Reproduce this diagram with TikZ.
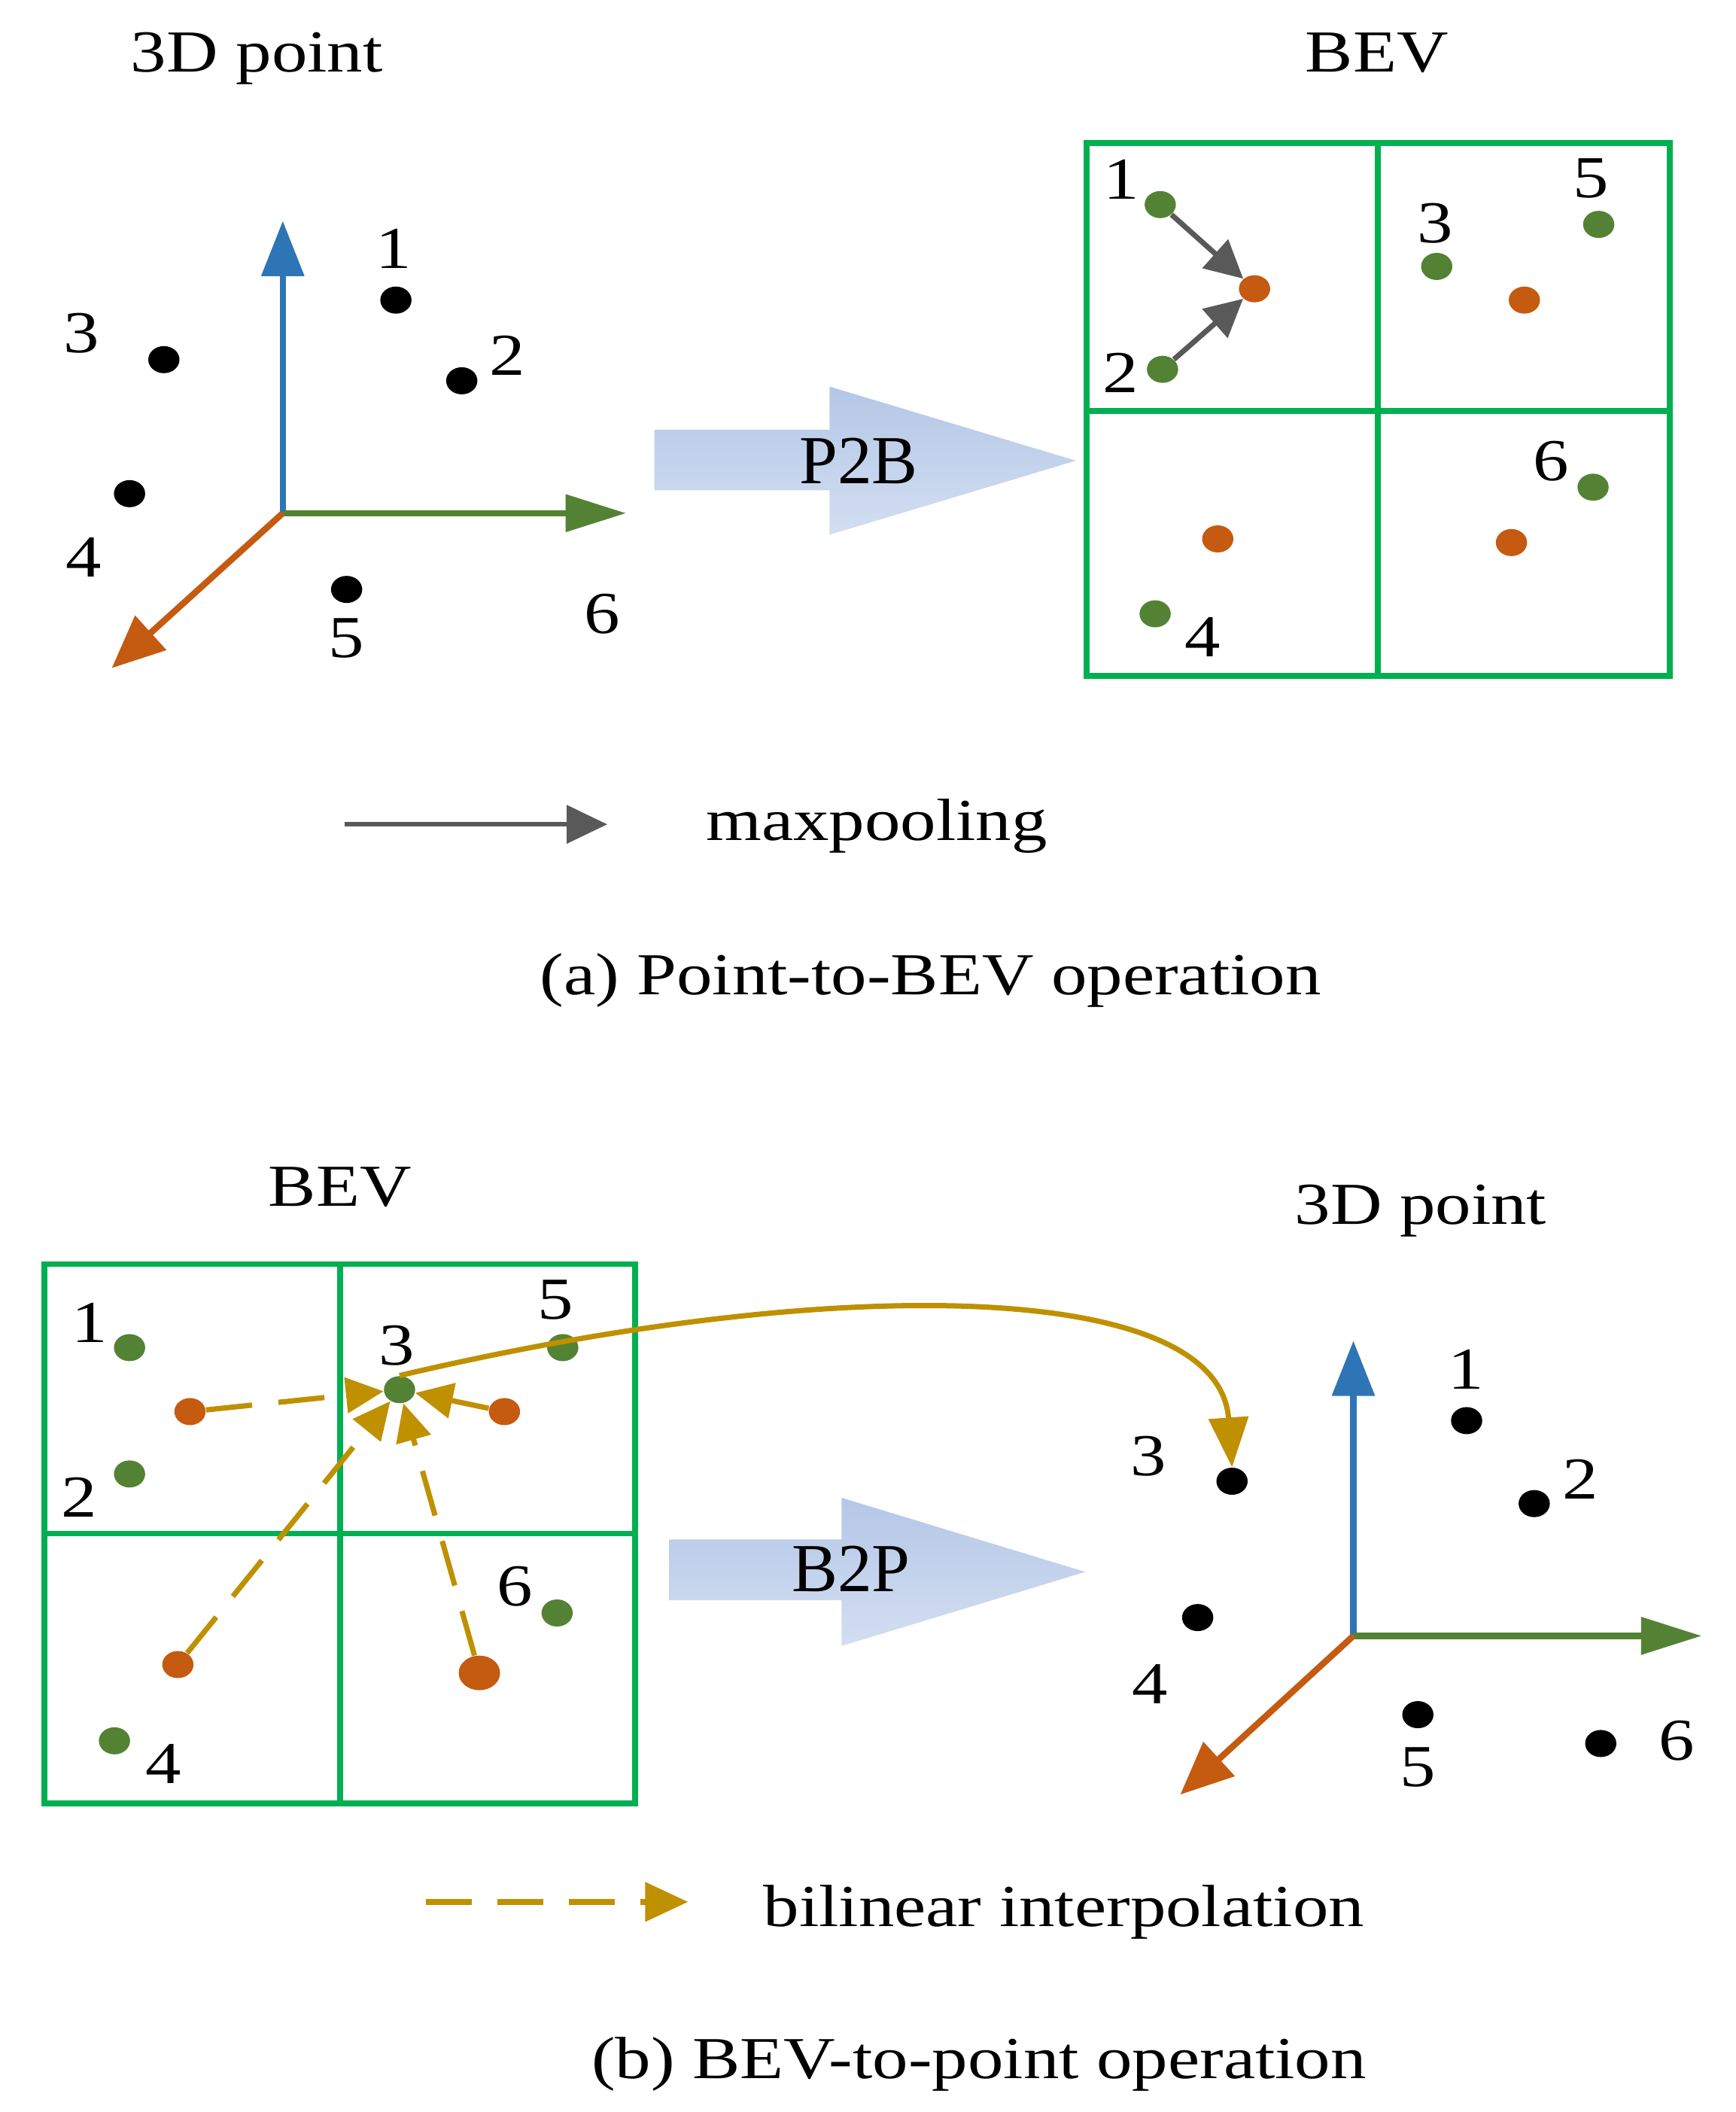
\documentclass[tikz,border=0pt]{standalone}
\usepackage{fontspec}
\setmainfont[FakeStretch=1.2]{Liberation Serif}
\newfontfamily\plainserif{Liberation Serif}
\usetikzlibrary{arrows.meta,shapes.geometric}
\definecolor{axblue}{HTML}{2E75B6}
\definecolor{axgreen}{HTML}{548235}
\definecolor{axorange}{HTML}{C55A11}
\definecolor{gridgreen}{HTML}{00B050}
\definecolor{dotgreen}{HTML}{548235}
\definecolor{dotorange}{HTML}{C55A11}
\definecolor{goldc}{HTML}{BF9000}
\definecolor{grayc}{HTML}{595959}
\definecolor{blocktop}{HTML}{B4C7E7}
\definecolor{blockbot}{HTML}{D3DEF1}
\begin{document}
\begin{tikzpicture}[x=0.0179cm,y=-0.0179cm,
  dot/.style={ellipse,inner sep=0pt,minimum width=0.415cm,minimum height=0.36cm},
  kdot/.style={dot,fill=black},
  gdot/.style={dot,fill=dotgreen},
  odot/.style={dot,fill=dotorange},
  bigodot/.style={ellipse,inner sep=0pt,minimum width=0.55cm,minimum height=0.46cm,fill=dotorange},
  lab/.style={inner sep=0pt,font=\fontsize{22.5}{27}\selectfont},
  ttl/.style={lab,anchor=base},
  blocklab/.style={inner sep=0pt,font=\plainserif\fontsize{26}{31}\selectfont},
  zaxis/.style={draw=axblue,line width=2.4pt,-{Triangle[length=0.734cm,width=0.555cm]}},
  xaxis/.style={draw=axgreen,line width=2.4pt,-{Triangle[length=0.806cm,width=0.483cm]}},
  yaxis/.style={draw=axorange,line width=2.4pt,-{Triangle[length=0.7cm,width=0.6cm]}},
  grid/.style={draw=gridgreen,line width=2.2pt},
  block/.style={top color=blocktop,bottom color=blockbot,draw=none},
  grayarrow/.style={draw=grayc,line width=2pt,-{Triangle[length=0.5cm,width=0.5cm]}},
  golddash/.style={draw=goldc,line width=2pt,dash pattern=on 17.5pt off 10pt,-{Triangle[length=0.5cm,width=0.465cm]}},
  goldcurve/.style={draw=goldc,line width=2pt,-{Triangle[length=0.66cm,width=0.52cm]}}
]
\useasboundingbox (0,0) rectangle (1289,1568);

% ---------------- (a) top ----------------
\node[ttl] (t3dtitle) at (190.7,53.5) {3D point};
\node[ttl] (tbevtitle) at (1022.5,53.5) {BEV};

% axes top-left
\coordinate (O1) at (210,381);
\coordinate (Z1) at (210,164);
\coordinate (X1) at (465,381);
\coordinate (Y1) at (83,496);
\draw[zaxis] (O1) -- (Z1);
\draw[xaxis] (O1) -- (X1);
\draw[yaxis] (O1) -- (Y1);

% points top-left
\node[kdot] (ta1) at (294,222.8) {};
\node[kdot] (ta2) at (342.9,282.7) {};
\node[kdot] (ta3) at (121.7,267) {};
\node[kdot] (ta4) at (96.2,366.5) {};
\node[kdot] (ta5) at (257.4,437.6) {};
\node[lab] (tl1) at (292.5,184.5) {1};
\node[lab] (tl2) at (376.8,264) {2};
\node[lab] (tl3) at (60.4,247.6) {3};
\node[lab] (tl4) at (62,414) {4};
\node[lab] (tl5) at (257,474) {5};
\node[lab] (tl6) at (447.4,456) {6};

% P2B block arrow
\path[block] (486,319) -- (616,319) -- (616,287) -- (799,342) -- (616,397) -- (616,364) -- (486,364) -- cycle;
\node[blocklab] (p2b) at (637.6,342.2) {P2B};

% BEV grid top
\draw[grid] (807,106) rectangle (1240,502);
\draw[grid] (1023,106) -- (1023,502);
\draw[grid] (807,305) -- (1240,305);

\node[gdot] (bg1) at (861.6,151.9) {};
\node[gdot] (bg2) at (863.3,274.2) {};
\node[gdot] (bg3) at (1066.9,197.8) {};
\node[gdot] (bg5) at (1187.2,166.6) {};
\node[gdot] (bg6) at (1183,361.7) {};
\node[gdot] (bg4) at (857.8,455.7) {};
\node[odot] (bo1) at (931.6,214.4) {};
\node[odot] (bo2) at (1132,222.8) {};
\node[odot] (bo3) at (904.3,400.1) {};
\node[odot] (bo4) at (1122.4,402.8) {};
\node[lab] (bl1) at (832.7,133.3) {1};
\node[lab] (bl2) at (832.1,277) {2};
\node[lab] (bl3) at (1066,165.8) {3};
\node[lab] (bl5) at (1181.4,132.4) {5};
\node[lab] (bl6) at (1151.8,342.3) {6};
\node[lab] (bl4) at (892.8,473) {4};
\draw[grayarrow] (bg1) -- (bo1);
\draw[grayarrow] (bg2) -- (bo1);

% legend (a)
\coordinate (lga) at (256,612);
\coordinate (lgb) at (451,612);
\draw[draw=grayc,line width=1.8pt,-{Triangle[length=0.54cm,width=0.5cm]}] (lga) -- (lgb);
\node[ttl] (maxp) at (651,624) {maxpooling};
\node[ttl] (capa) at (691,738.5) {(a) Point-to-BEV operation};

% ---------------- (b) bottom ----------------
\node[ttl] (bbevtitle) at (252.5,895.5) {BEV};
\node[ttl] (b3dtitle) at (1055,909) {3D point};

% BEV grid bottom
\draw[grid] (33,938.5) rectangle (471.5,1339);
\draw[grid] (252.4,938.5) -- (252.4,1339);
\draw[grid] (33,1138.6) -- (471.5,1138.6);

\node[gdot] (cg1) at (96.2,1000.5) {};
\node[gdot] (cg2) at (96.2,1094.3) {};
\node[gdot] (cg3) at (296.7,1031.7) {};
\node[gdot] (cg5) at (417.9,1000.5) {};
\node[gdot] (cg6) at (413.7,1197.5) {};
\node[gdot] (cg4) at (85,1292.4) {};
\node[odot] (co1) at (141.1,1048) {};
\node[odot] (co2) at (374.6,1048) {};
\node[odot] (co3) at (132.1,1235.8) {};
\node[bigodot] (co4) at (356,1242) {};
\node[lab] (cl1) at (66.4,981.9) {1};
\node[lab] (cl2) at (58.7,1111.6) {2};
\node[lab] (cl3) at (294.4,998.8) {3};
\node[lab] (cl5) at (412.7,965) {5};
\node[lab] (cl6) at (382.3,1177.6) {6};
\node[lab] (cl4) at (121.2,1309.6) {4};

\draw[golddash] (co1) -- (cg3);
\draw[golddash] (co2) -- (cg3);
\draw[golddash] (co3) -- (cg3);
\draw[golddash] (co4) -- (cg3);

% B2P block arrow
\path[block] (497,1143) -- (625,1143) -- (625,1112) -- (806,1167) -- (625,1222) -- (625,1188) -- (497,1188) -- cycle;
\node[blocklab] (b2p) at (632,1165) {B2P};

% axes bottom-right
\coordinate (O2) at (1005,1214.5);
\coordinate (Z2) at (1005,995.4);
\coordinate (X2) at (1263.7,1214.5);
\coordinate (Y2) at (876.5,1332.3);
\draw[zaxis] (O2) -- (Z2);
\draw[xaxis] (O2) -- (X2);
\draw[yaxis] (O2) -- (Y2);

\node[kdot] (pa1) at (1089.1,1054.7) {};
\node[kdot] (pa2) at (1139.3,1116.3) {};
\node[kdot] (pa3) at (914.9,1099.7) {};
\node[kdot] (pa4) at (889.4,1200.9) {};
\node[kdot] (pa5) at (1052.9,1273) {};
\node[kdot] (pa6) at (1188.7,1294.4) {};
\node[lab] (pl1) at (1088.4,1016.8) {1};
\node[lab] (pl2) at (1173.7,1098) {2};
\node[lab] (pl3) at (852.6,1081.1) {3};
\node[lab] (pl4) at (854.2,1250.4) {4};
\node[lab] (pl5) at (1052.9,1312) {5};
\node[lab] (pl6) at (1244.9,1292.4) {6};

% curved arrow
\draw[goldcurve] (cg3.north) .. controls (620,945) and (905,950) .. (pa3.north);

% legend (b)
\coordinate (lgc) at (316,1412);
\coordinate (lgd) at (511,1412);
\draw[draw=goldc,line width=2.2pt,dash pattern=on 17.5pt off 9.6pt,-{Triangle[length=0.57cm,width=0.51cm]}] (lgc) -- (lgd);
\node[ttl] (bilin) at (790,1430) {bilinear interpolation};
\node[ttl] (capb) at (727,1543) {(b) BEV-to-point operation};
\end{tikzpicture}
\end{document}
